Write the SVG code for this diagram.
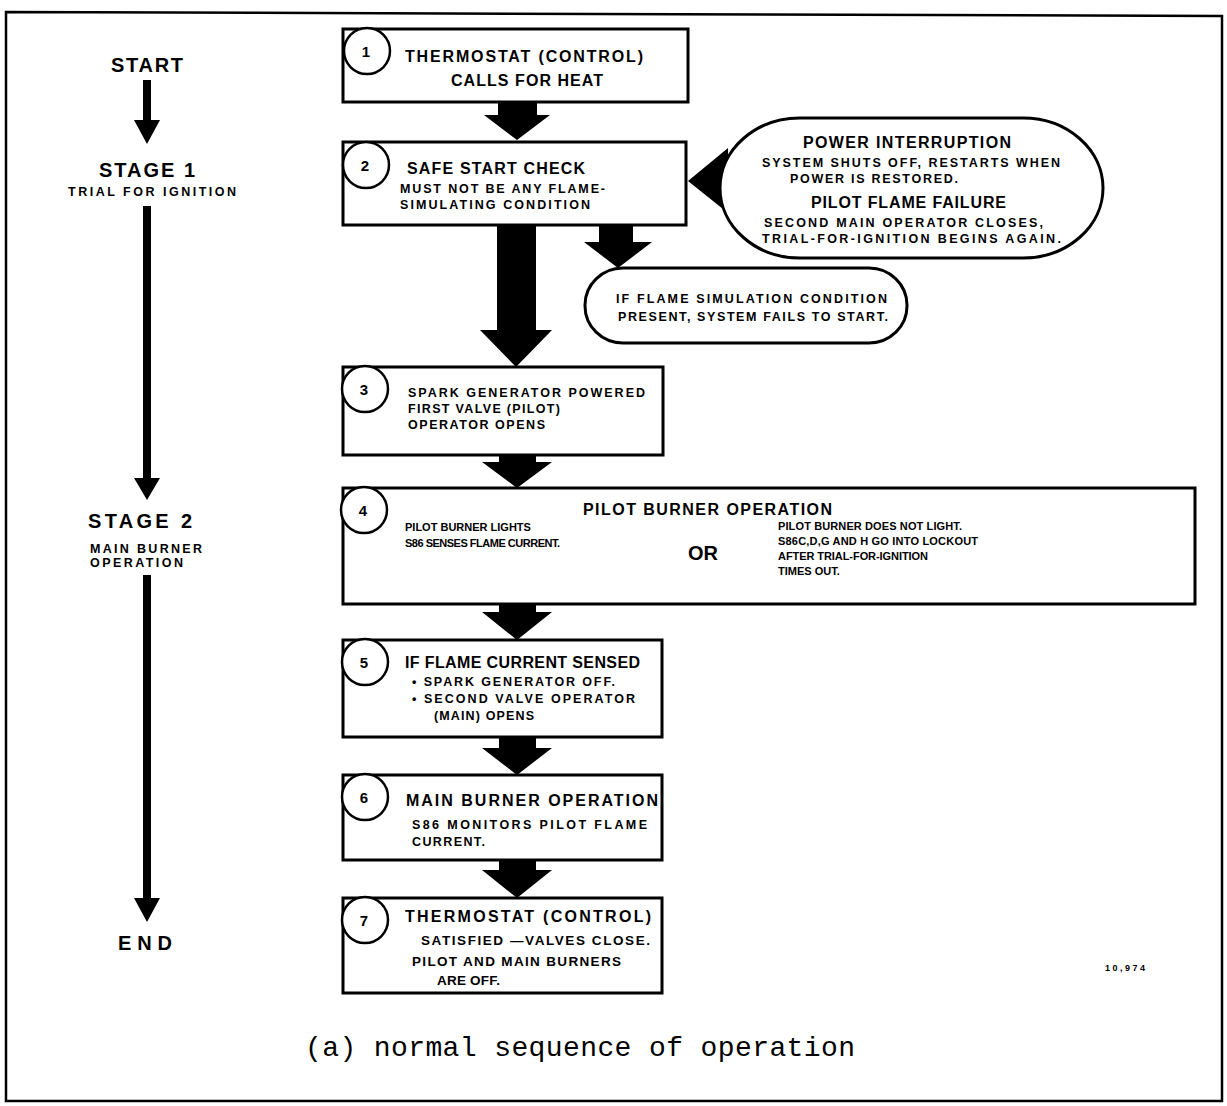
<svg xmlns="http://www.w3.org/2000/svg" width="1227" height="1106" viewBox="0 0 1227 1106">
<style>
.box{fill:#fff;stroke:#000;stroke-width:3}
.num{fill:#fff;stroke:#000;stroke-width:2.5}
.arr{fill:#000}
text{font-family:"Liberation Sans",Arial,sans-serif;font-weight:bold;fill:#000}
.h{font-size:16px}
.s{font-size:12.5px}
.t{font-size:11px}
.big{font-size:20px}
.n{font-size:15px;text-anchor:middle}
.cap{font-family:"Liberation Mono","Courier New",monospace;font-weight:normal;font-size:28px}
</style>
<rect x="0" y="0" width="1227" height="1106" fill="#fff"/>
<path d="M6 12 L1222 16 L1222 1101 L6 1101 Z" fill="none" stroke="#000" stroke-width="2.5"/>

<g id="stages">
<text class="big" x="147" y="72" text-anchor="middle" textLength="72">START</text>
<text class="big" x="147" y="177" text-anchor="middle" textLength="96">STAGE 1</text>
<text class="s" x="152" y="196" text-anchor="middle" textLength="168">TRIAL FOR IGNITION</text>
<text class="big" x="140" y="528" text-anchor="middle" textLength="104">STAGE 2</text>
<text class="s" x="90" y="553" textLength="112">MAIN BURNER</text>
<text class="s" x="90" y="567" textLength="93">OPERATION</text>
<text class="big" x="145" y="950" text-anchor="middle" textLength="54">END</text>
</g>

<g id="connectors">
<path class="arr" d="M143 80 H151 V120 H160 L147 144 L134 120 H143 Z"/>
<path class="arr" d="M143 206 H151 V478 H160 L147 500 L134 478 H143 Z"/>
<path class="arr" d="M143 575 H151 V898 H160 L147 922 L134 898 H143 Z"/>
<path class="arr" d="M498 102 H537 V115 H550 L517 140 L484 115 H498 Z"/>
<path class="arr" d="M497 225 H536 V330 H552 L516 367 L480 330 H497 Z"/>
<path class="arr" d="M599 225 H633 V242 H652 L618 268 L584 242 H599 Z"/>
<path class="arr" d="M499 455 H536 V462 H552 L517 488 L482 462 H499 Z"/>
<path class="arr" d="M499 604 H536 V612 H552 L517 640 L482 612 H499 Z"/>
<path class="arr" d="M499 737 H536 V748 H552 L517 775 L482 748 H499 Z"/>
<path class="arr" d="M499 860 H536 V870 H552 L517 898 L482 870 H499 Z"/>
<path class="arr" d="M688 181 L728 148 V165 H745 V197 H728 V213 Z"/>
</g>

<g id="node1">
<rect class="box" x="343" y="29" width="345" height="73"/>
<circle class="num" cx="367" cy="51" r="23"/>
<text class="n" x="366" y="57">1</text>
<text class="h" x="405" y="62" textLength="238">THERMOSTAT (CONTROL)</text>
<text class="h" x="451" y="86" textLength="152">CALLS FOR HEAT</text>
</g>

<g id="node2">
<rect class="box" x="343" y="142" width="343" height="83"/>
<circle class="num" cx="366" cy="165" r="23"/>
<text class="n" x="365" y="171">2</text>
<text class="h" x="407" y="174" textLength="178">SAFE START CHECK</text>
<text class="s" x="400" y="193" textLength="205">MUST NOT BE ANY FLAME-</text>
<text class="s" x="400" y="209" textLength="190">SIMULATING CONDITION</text>
</g>

<g id="note1">
<rect class="box" x="720" y="118" width="383" height="140" rx="80" ry="70"/>
<text class="h" x="803" y="148" textLength="208">POWER INTERRUPTION</text>
<text class="s" x="762" y="167" textLength="298">SYSTEM SHUTS OFF, RESTARTS WHEN</text>
<text class="s" x="790" y="183" textLength="168">POWER IS RESTORED.</text>
<text class="h" x="811" y="208" textLength="195">PILOT FLAME FAILURE</text>
<text class="s" x="764" y="227" textLength="279">SECOND MAIN OPERATOR CLOSES,</text>
<text class="s" x="762" y="243" textLength="299">TRIAL-FOR-IGNITION BEGINS AGAIN.</text>
</g>

<g id="note2">
<rect class="box" x="585" y="268" width="322" height="75" rx="38" ry="37"/>
<text class="s" x="616" y="303" textLength="271">IF FLAME SIMULATION CONDITION</text>
<text class="s" x="618" y="321" textLength="270">PRESENT, SYSTEM FAILS TO START.</text>
</g>

<g id="node3">
<rect class="box" x="343" y="367" width="320" height="88"/>
<circle class="num" cx="365" cy="389" r="23"/>
<text class="n" x="364" y="395">3</text>
<text class="s" x="408" y="397" textLength="237">SPARK GENERATOR POWERED</text>
<text class="s" x="408" y="413" textLength="152">FIRST VALVE (PILOT)</text>
<text class="s" x="408" y="429" textLength="137">OPERATOR OPENS</text>
</g>

<g id="node4">
<rect class="box" x="343" y="488" width="852" height="116"/>
<circle class="num" cx="364" cy="510" r="23"/>
<text class="n" x="363" y="516">4</text>
<text class="h" x="583" y="515" textLength="249">PILOT BURNER OPERATION</text>
<text class="t" x="405" y="531">PILOT BURNER LIGHTS</text>
<text class="t" x="405" y="547" textLength="155">S86 SENSES FLAME CURRENT.</text>
<text class="big" x="688" y="560">OR</text>
<text class="t" x="778" y="530" textLength="184">PILOT BURNER DOES NOT LIGHT.</text>
<text class="t" x="778" y="545" textLength="200">S86C,D,G AND H GO INTO LOCKOUT</text>
<text class="t" x="778" y="560" textLength="150">AFTER TRIAL-FOR-IGNITION</text>
<text class="t" x="778" y="575">TIMES OUT.</text>
</g>

<g id="node5">
<rect class="box" x="343" y="640" width="319" height="97"/>
<circle class="num" cx="365" cy="662" r="23"/>
<text class="n" x="364" y="668">5</text>
<text class="h" x="405" y="668" textLength="235">IF FLAME CURRENT SENSED</text>
<text class="s" x="412" y="686" textLength="203">• SPARK GENERATOR OFF.</text>
<text class="s" x="412" y="703" textLength="223">• SECOND VALVE OPERATOR</text>
<text class="s" x="434" y="720" textLength="100">(MAIN) OPENS</text>
</g>

<g id="node6">
<rect class="box" x="343" y="775" width="319" height="85"/>
<circle class="num" cx="365" cy="797" r="23"/>
<text class="n" x="364" y="803">6</text>
<text class="h" x="406" y="806" textLength="252">MAIN BURNER OPERATION</text>
<text class="s" x="412" y="829" textLength="235">S86 MONITORS PILOT FLAME</text>
<text class="s" x="412" y="846" textLength="73">CURRENT.</text>
</g>

<g id="node7">
<rect class="box" x="343" y="898" width="319" height="95"/>
<circle class="num" cx="365" cy="920" r="23"/>
<text class="n" x="364" y="926">7</text>
<text class="h" x="405" y="922" textLength="246">THERMOSTAT (CONTROL)</text>
<text class="s" x="421" y="945" style="font-size:13.5px" textLength="229">SATISFIED —VALVES CLOSE.</text>
<text class="s" x="412" y="966" style="font-size:13.5px" textLength="209">PILOT AND MAIN BURNERS</text>
<text class="s" x="437" y="985" style="font-size:13.5px" textLength="63">ARE OFF.</text>
</g>

<text x="1105" y="971" style="font-size:9px" textLength="40">10,974</text>
<text class="cap" x="305" y="1056" textLength="550">(a) normal sequence of operation</text>
</svg>
